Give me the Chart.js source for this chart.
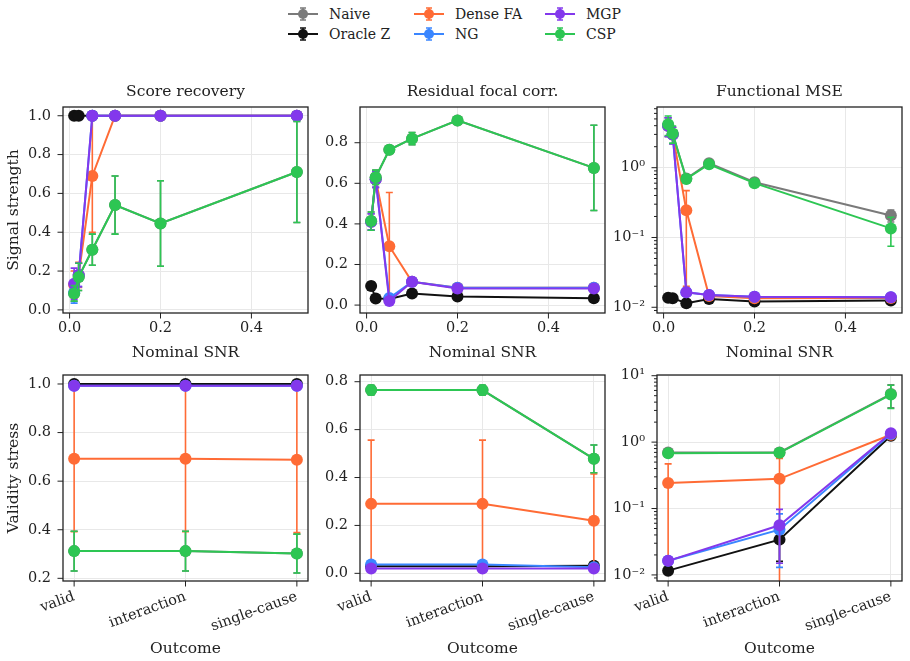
<!DOCTYPE html>
<html>
<head>
<meta charset="utf-8">
<title>Signal strength and validity stress</title>
<script src="https://cdn.jsdelivr.net/npm/chart.js@4.4.1/dist/chart.umd.min.js"></script>
<style>
  body { margin: 0; background: #fff; }
  #figure { position: relative; width: 910px; height: 661px; overflow: hidden; background: #fff;
            font-family: "DejaVu Serif", serif; color: #222; }
  #figure canvas { position: absolute; }
  .legend-item { position: absolute; display: flex; align-items: center; height: 20px; font-size: 14px; white-space: nowrap; }
  .legend-item svg { margin-right: 11px; }
</style>
</head>
<body>
<div id="figure">
  <div id="legend"></div>
  <canvas id="scoreChart"></canvas>
  <canvas id="corrChart"></canvas>
  <canvas id="mseChart"></canvas>
  <canvas id="stressScoreChart"></canvas>
  <canvas id="stressCorrChart"></canvas>
  <canvas id="stressMseChart"></canvas>
</div>
<script>
// ---- data ----
const snr = [0.01, 0.02, 0.05, 0.1, 0.2, 0.5];
const outcomes = ["valid", "interaction", "single-cause"];
const seriesNames = ["Naive", "Oracle Z", "Dense FA", "NG", "MGP", "CSP"];

const snrTicks = [0, 0.2, 0.4];
const scoreTicks = [0, 0.2, 0.4, 0.6, 0.8, 1.0];
const corrTicks = [0, 0.2, 0.4, 0.6, 0.8];
const mseTicks = [0.01, 0.1, 1];
const stressScoreTicks = [0.2, 0.4, 0.6, 0.8, 1.0];
const stressMseTicks = [0.01, 0.1, 1, 10];

// rows follow seriesNames
const scoreMeans = [
  [0.085, 0.17, 0.31, 0.54, 0.445, 0.71],
  [1.0, 1.0, 1.0, 1.0, 1.0, 1.0],
  [0.13, 0.18, 0.69, 1.0, 1.0, 1.0],
  [0.09, 0.18, 1.0, 1.0, 1.0, 1.0],
  [0.135, 0.18, 1.0, 1.0, 1.0, 1.0],
  [0.085, 0.17, 0.31, 0.54, 0.445, 0.71],
];
const scoreErrs = [
  [0.04, 0.07, 0.08, 0.15, 0.22, 0.26],
  [0, 0, 0, 0, 0, 0],
  [0.07, 0.065, 0.29, 0, 0, 0],
  [0.055, 0.06, 0, 0, 0, 0],
  [0.08, 0.06, 0, 0, 0, 0],
  [0.04, 0.07, 0.08, 0.15, 0.22, 0.26],
];

const corrMeans = [
  [0.414, 0.63, 0.765, 0.82, 0.91, 0.676],
  [0.094, 0.033, 0.03, 0.057, 0.042, 0.034],
  [0.41, 0.62, 0.29, 0.115, 0.085, 0.085],
  [0.41, 0.62, 0.035, 0.115, 0.085, 0.085],
  [0.41, 0.62, 0.02, 0.115, 0.082, 0.082],
  [0.414, 0.63, 0.765, 0.82, 0.91, 0.676],
];
const corrErrs = [
  [0.045, 0.035, 0.015, 0.03, 0.012, 0.21],
  [0.02, 0.01, 0.01, 0.01, 0.005, 0.005],
  [0.04, 0.04, 0.265, 0.02, 0.02, 0.01],
  [0.04, 0.04, 0.01, 0.02, 0.02, 0.01],
  [0.04, 0.04, 0.01, 0.02, 0.02, 0.01],
  [0.045, 0.035, 0.015, 0.03, 0.012, 0.21],
];

const mseMeans = [
  [4.0, 3.0, 0.7, 1.16, 0.62, 0.207],
  [0.0137, 0.0135, 0.0114, 0.0131, 0.0121, 0.0125],
  [4.0, 3.0, 0.245, 0.0145, 0.0135, 0.0136],
  [4.0, 3.0, 0.0164, 0.015, 0.0141, 0.0139],
  [4.0, 3.0, 0.0164, 0.015, 0.0141, 0.0139],
  [4.2, 3.1, 0.69, 1.12, 0.6, 0.135],
];
const mseErrs = [
  [1.2, 0.8, 0.08, 0.1, 0.05, 0.04],
  [0.0005, 0.0005, 0.0005, 0.0005, 0.0005, 0.0005],
  [1.2, 0.8, 0.225, 0.001, 0.0005, 0.0005],
  [1.2, 0.8, 0.001, 0.001, 0.0005, 0.0005],
  [1.2, 0.8, 0.001, 0.001, 0.0005, 0.0005],
  [1.3, 0.85, 0.06, 0.1, 0.05, 0.06],
];

const stressScoreMeans = [
  [0.312, 0.312, 0.302],
  [1.0, 1.0, 1.0],
  [0.692, 0.692, 0.688],
  [0.993, 0.993, 0.993],
  [0.993, 0.993, 0.993],
  [0.312, 0.312, 0.302],
];
const stressScoreErrs = [
  [0.082, 0.082, 0.08],
  [0, 0, 0],
  [0.3, 0.3, 0.3],
  [0.005, 0.005, 0.005],
  [0.005, 0.005, 0.005],
  [0.082, 0.082, 0.08],
];

const stressCorrMeans = [
  [0.765, 0.765, 0.478],
  [0.03, 0.03, 0.032],
  [0.29, 0.29, 0.22],
  [0.037, 0.037, 0.025],
  [0.02, 0.02, 0.02],
  [0.765, 0.765, 0.478],
];
const stressCorrErrs = [
  [0.02, 0.02, 0.058],
  [0.005, 0.005, 0.005],
  [0.266, 0.266, 0.195],
  [0.005, 0.005, 0.005],
  [0.005, 0.005, 0.005],
  [0.02, 0.02, 0.058],
];

const stressMseMeans = [
  [0.7, 0.7, 5.3],
  [0.0116, 0.034, 1.25],
  [0.243, 0.28, 1.29],
  [0.0163, 0.048, 1.33],
  [0.0163, 0.056, 1.36],
  [0.68, 0.69, 5.2],
];
const stressMseErrs = [
  [0.05, 0.05, 2.0],
  [0.001, 0.018, 0.1],
  [0.227, 0.29, 0.1],
  [0.002, 0.035, 0.1],
  [0.002, 0.041, 0.1],
  [0.05, 0.05, 2.0],
];

// ---- style ----
const seriesColors = ["#7a7a7a", "#111111", "#ff6b35", "#3a86ff", "#8338ec", "#2dc653"];
const gridColor = "#e8e8e8";
const inkColor = "#222222";
const outcomeIdx = outcomes.map((_, i) => i);

Chart.defaults.font.family = "'DejaVu Serif', serif";
Chart.defaults.color = inkColor;

// legend (html, two rows x three columns)
const legendEl = document.getElementById("legend");
const legendLeft = [288, 414, 545];
const legendTop = [4, 24];
seriesNames.forEach((name, s) => {
  const c = seriesColors[s];
  const item = document.createElement("div");
  item.className = "legend-item";
  item.style.left = legendLeft[Math.floor(s / 2)] + "px";
  item.style.top = legendTop[s % 2] + "px";
  item.innerHTML = `
    <svg width="30" height="20" viewBox="0 0 30 20">
      <line x1="0" y1="10" x2="30" y2="10" stroke="${c}" stroke-width="2"/>
      <line x1="15" y1="4" x2="15" y2="16" stroke="${c}" stroke-width="1.5"/>
      <line x1="12" y1="4" x2="18" y2="4" stroke="${c}" stroke-width="1.5"/>
      <line x1="12" y1="16" x2="18" y2="16" stroke="${c}" stroke-width="1.5"/>
      <circle cx="15" cy="10" r="5" fill="${c}"/>
    </svg><span>${name}</span>`;
  legendEl.appendChild(item);
});

// error bars drawn just under each dataset's own line
const errorBarPlugin = {
  id: "errorBars",
  beforeDatasetDraw(chart, args) {
    const ds = chart.data.datasets[args.index];
    if (!ds.errors) return;
    const yScale = chart.scales.y;
    const a = chart.chartArea;
    const ctx = chart.ctx;
    ctx.save();
    ctx.beginPath();
    ctx.rect(a.left, a.top, a.right - a.left, a.bottom - a.top);
    ctx.clip();
    ctx.strokeStyle = ds.borderColor;
    ctx.lineWidth = 1.6;
    args.meta.data.forEach((pt, i) => {
      const e = ds.errors[i];
      if (!e) return;
      const v = ds.data[i].y;
      const lo = v - e;
      const hi = v + e;
      const yHi = yScale.getPixelForValue(hi);
      const yLo = (yScale.type === "logarithmic" && lo <= 0) ? a.bottom + 10 : yScale.getPixelForValue(lo);
      const x = pt.x;
      ctx.beginPath();
      ctx.moveTo(x, yLo); ctx.lineTo(x, yHi);
      ctx.moveTo(x - 3.5, yHi); ctx.lineTo(x + 3.5, yHi);
      ctx.moveTo(x - 3.5, yLo); ctx.lineTo(x + 3.5, yLo);
      ctx.stroke();
    });
    ctx.restore();
  }
};

// axes frame and tick marks (minor ticks shorter)
const frameTicksPlugin = {
  id: "frameTicks",
  afterDraw(chart) {
    const { ctx, chartArea: a, scales } = chart;
    ctx.save();
    ctx.strokeStyle = inkColor;
    ctx.lineWidth = 1;
    scales.x.ticks.forEach((t) => {
      const x = scales.x.getPixelForValue(t.value);
      const len = t.major === false ? 3 : 5.5;
      ctx.beginPath(); ctx.moveTo(x, a.bottom); ctx.lineTo(x, a.bottom + len); ctx.stroke();
    });
    scales.y.ticks.forEach((t) => {
      const y = scales.y.getPixelForValue(t.value);
      if (y < a.top - 0.5 || y > a.bottom + 0.5) return;
      const len = t.major === false ? 3 : 5.5;
      ctx.beginPath(); ctx.moveTo(a.left - len, y); ctx.lineTo(a.left, y); ctx.stroke();
    });
    ctx.lineWidth = 1.3;
    ctx.strokeRect(a.left, a.top, a.right - a.left, a.bottom - a.top);
    ctx.restore();
  }
};

function supPow(v) {
  const sup = { "-": "\u207B", "0": "\u2070", "1": "\u00B9", "2": "\u00B2", "3": "\u00B3" };
  const e = Math.round(Math.log10(v));
  return "10" + String(e).split("").map((c) => sup[c]).join("");
}

function logTickList(majors, min, max) {
  const list = majors.map((v) => ({ value: v, major: true }));
  const lo = Math.floor(Math.log10(min));
  const hi = Math.ceil(Math.log10(max));
  for (let e = lo; e < hi; e++) {
    for (let k = 2; k <= 9; k++) {
      const v = k * Math.pow(10, e);
      if (v >= min && v <= max) list.push({ value: v, major: false });
    }
  }
  return list.sort((p, q) => p.value - q.value);
}

const PW = 245, PH = 206, TITLE_H = 28, RIGHT_PAD = 10;

const panels = [
  { id: "scoreChart", title: "Score recovery", L: 63, T: 107, left: 62, bottom: 49,
    yLabel: "Signal strength", xLabel: "Nominal SNR", xs: snr, xMin: -0.0145, xMax: 0.5245, xTicks: snrTicks,
    log: false, yMin: -0.016, yMax: 1.045, yTicks: scoreTicks, means: scoreMeans, errs: scoreErrs },
  { id: "corrChart", title: "Residual focal corr.", L: 360, T: 107, left: 50, bottom: 49,
    yLabel: "", xLabel: "Nominal SNR", xs: snr, xMin: -0.0145, xMax: 0.5245, xTicks: snrTicks,
    log: false, yMin: -0.039, yMax: 0.976, yTicks: corrTicks, means: corrMeans, errs: corrErrs },
  { id: "mseChart", title: "Functional MSE", L: 657, T: 107, left: 50, bottom: 49,
    yLabel: "", xLabel: "Nominal SNR", xs: snr, xMin: -0.0145, xMax: 0.5245, xTicks: snrTicks,
    log: true, yMin: 0.00828, yMax: 7.41, yTicks: mseTicks, means: mseMeans, errs: mseErrs },
  { id: "stressScoreChart", title: "", L: 63, T: 375, left: 62, bottom: 77,
    yLabel: "Validity stress", xLabel: "Outcome", xs: outcomeIdx, xMin: -0.1, xMax: 2.1, xTicks: outcomeIdx,
    log: false, yMin: 0.189, yMax: 1.037, yTicks: stressScoreTicks, means: stressScoreMeans, errs: stressScoreErrs },
  { id: "stressCorrChart", title: "", L: 360, T: 375, left: 50, bottom: 77,
    yLabel: "", xLabel: "Outcome", xs: outcomeIdx, xMin: -0.1, xMax: 2.1, xTicks: outcomeIdx,
    log: false, yMin: -0.032, yMax: 0.828, yTicks: corrTicks, means: stressCorrMeans, errs: stressCorrErrs },
  { id: "stressMseChart", title: "", L: 657, T: 375, left: 50, bottom: 77,
    yLabel: "", xLabel: "Outcome", xs: outcomeIdx, xMin: -0.1, xMax: 2.1, xTicks: outcomeIdx,
    log: true, yMin: 0.0081, yMax: 10.25, yTicks: stressMseTicks, means: stressMseMeans, errs: stressMseErrs },
];

panels.forEach((p) => {
  const canvas = document.getElementById(p.id);
  const top = p.T - TITLE_H;
  const w = p.left + PW + RIGHT_PAD;
  const h = TITLE_H + PH + p.bottom;
  canvas.width = w; canvas.height = h;
  canvas.style.left = (p.L - p.left) + "px";
  canvas.style.top = top + "px";
  canvas.style.width = w + "px";
  canvas.style.height = h + "px";

  const categorical = p.xs === outcomeIdx;

  new Chart(canvas, {
    type: "line",
    data: {
      datasets: seriesNames.map((name, s) => ({
        label: name,
        data: p.means[s].map((v, i) => ({ x: p.xs[i], y: v })),
        errors: p.errs[s],
        order: seriesNames.length - s,
        borderColor: seriesColors[s],
        backgroundColor: seriesColors[s],
        pointBackgroundColor: seriesColors[s],
        borderWidth: 2,
        pointRadius: 6,
        pointHoverRadius: 6,
        pointBorderWidth: 0,
        tension: 0,
      })),
    },
    options: {
      responsive: false,
      animation: false,
      events: [],
      layout: { padding: { left: 0, right: RIGHT_PAD, top: p.title ? 0 : TITLE_H, bottom: 0 } },
      plugins: {
        legend: { display: false },
        tooltip: { enabled: false },
        title: {
          display: !!p.title,
          fullSize: false,   // centre over the plot area, not the canvas
          text: p.title,
          color: inkColor,
          font: { size: 15.5, weight: "normal" },
          padding: { top: 3.4, bottom: 6 },
        },
      },
      scales: {
        x: {
          type: "linear",
          min: p.xMin,
          max: p.xMax,
          bounds: "data",
          afterBuildTicks: (scale) => { scale.ticks = p.xTicks.map((v) => ({ value: v })); },
          afterFit: (scale) => { scale.height = p.bottom; },
          grid: { color: gridColor, lineWidth: 1, drawTicks: false },
          border: { display: false },
          ticks: {
            autoSkip: false,
            padding: 7,
            font: { size: 14.5 },
            color: inkColor,
            minRotation: categorical ? 20 : 0,
            maxRotation: categorical ? 20 : 0,
            callback: (v) => categorical ? outcomes[v] : v.toFixed(1),
          },
          title: { display: true, text: p.xLabel, color: inkColor, font: { size: 15.5 }, padding: { top: 0, bottom: 0 } },
        },
        y: {
          type: p.log ? "logarithmic" : "linear",
          min: p.yMin,
          max: p.yMax,
          bounds: "data",
          afterBuildTicks: (scale) => {
            scale.ticks = p.log ? logTickList(p.yTicks, p.yMin, p.yMax) : p.yTicks.map((v) => ({ value: v }));
          },
          afterFit: (scale) => { scale.width = p.left; },
          grid: {
            color: (c) => (c.tick && c.tick.major === false) ? "rgba(0,0,0,0)" : gridColor,
            lineWidth: 1,
            drawTicks: false,
          },
          border: { display: false },
          ticks: {
            autoSkip: false,
            padding: 12,
            font: { size: 14.5 },
            color: inkColor,
            callback: function (v, i, ticks) {
              if (p.log) return ticks[i].major ? supPow(v) : "";
              return v.toFixed(1);
            },
          },
          title: { display: !!p.yLabel, text: p.yLabel, color: inkColor, font: { size: 15.5 }, padding: { top: 4, bottom: 0 } },
        },
      },
    },
    plugins: [errorBarPlugin, frameTicksPlugin],
  });
});
</script>
</body>
</html>
